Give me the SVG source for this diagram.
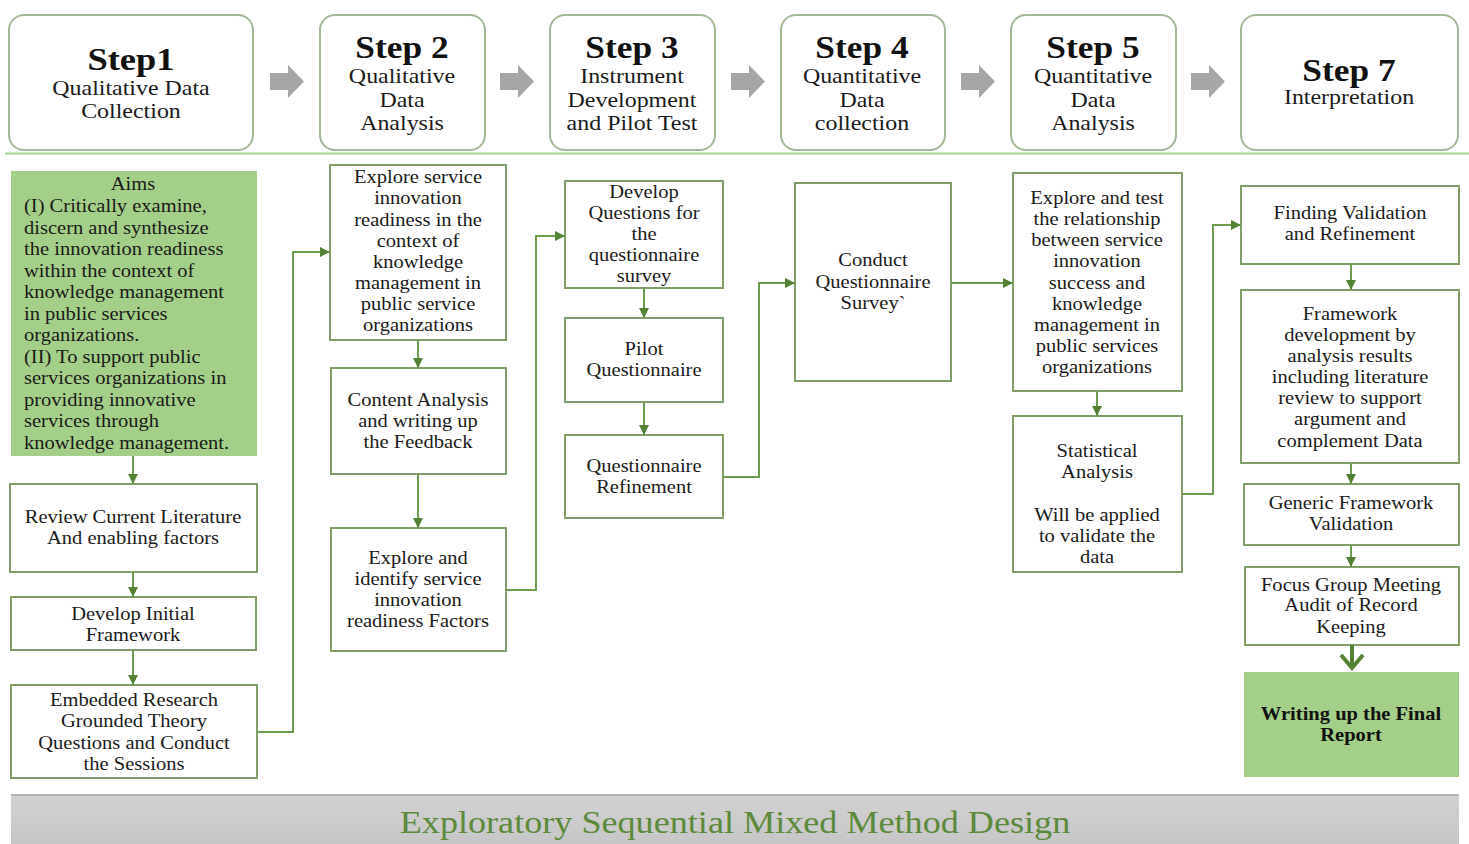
<svg xmlns="http://www.w3.org/2000/svg" width="1469" height="844" viewBox="0 0 1469 844">
<style>
.t{font-family:"Liberation Serif","Times New Roman",serif;font-size:18px;fill:#1a1a1a;text-anchor:middle}
.ta{font-family:"Liberation Serif","Times New Roman",serif;font-size:18px;fill:#1a1a1a;text-anchor:start}
.sh{font-family:"Liberation Serif","Times New Roman",serif;font-size:31px;font-weight:bold;fill:#111;text-anchor:middle}
.ss{font-family:"Liberation Serif","Times New Roman",serif;font-size:21px;fill:#1a1a1a;text-anchor:middle}
.tb{font-family:"Liberation Serif","Times New Roman",serif;font-size:18px;font-weight:bold;fill:#111;text-anchor:middle}
.title{font-family:"Liberation Serif","Times New Roman",serif;font-size:32px;fill:#5b8a3a;text-anchor:middle}
.step{fill:#fff;stroke:#a3b896;stroke-width:2}
.box{fill:#fff;stroke:#7f9e68;stroke-width:2}
.gbox{fill:#a4cf88;stroke:none}
.con{fill:none;stroke:#6d9b4f;stroke-width:2}
.garrow{fill:#a6a6a6}
</style>
<defs>
<marker id="ah" viewBox="0 0 10 10" refX="10" refY="5" markerWidth="10" markerHeight="10" markerUnits="userSpaceOnUse" orient="auto">
<path d="M0,0 L10,5 L0,10 z" fill="#548235"/>
</marker>
<linearGradient id="band" x1="0" y1="0" x2="0" y2="1">
<stop offset="0" stop-color="#d2d2d2"/>
<stop offset="1" stop-color="#c4c4c4"/>
</linearGradient>
<path id="gar" d="M0,8 H18 V0 L34,16.5 L18,33 V25 H0 z"/>
</defs>
<rect width="1469" height="844" fill="#fff"/>

<!-- Step headers -->
<g id="step1"><rect class="step" x="9" y="15" width="244" height="135" rx="15"/>
<text class="sh" transform="translate(131 0) scale(1.14 1)" style="font-size:32px"><tspan x="0" y="70">Step1</tspan></text>
<text class="ss" transform="translate(131 0) scale(1.14 1)"><tspan x="0" y="95">Qualitative Data</tspan><tspan x="0" y="118">Collection</tspan></text></g>
<g id="step2"><rect class="step" x="320" y="15" width="165" height="135" rx="15"/>
<text class="sh" transform="translate(402 0) scale(1.14 1)"><tspan x="0" y="58">Step 2</tspan></text>
<text class="ss" transform="translate(402 0) scale(1.14 1)"><tspan x="0" y="83">Qualitative</tspan><tspan x="0" y="107">Data</tspan><tspan x="0" y="130">Analysis</tspan></text></g>
<g id="step3"><rect class="step" x="550" y="15" width="165" height="135" rx="15"/>
<text class="sh" transform="translate(632 0) scale(1.14 1)"><tspan x="0" y="58">Step 3</tspan></text>
<text class="ss" transform="translate(632 0) scale(1.14 1)"><tspan x="0" y="83">Instrument</tspan><tspan x="0" y="107">Development</tspan><tspan x="0" y="130">and Pilot Test</tspan></text></g>
<g id="step4"><rect class="step" x="781" y="15" width="164" height="135" rx="15"/>
<text class="sh" transform="translate(862 0) scale(1.14 1)"><tspan x="0" y="58">Step 4</tspan></text>
<text class="ss" transform="translate(862 0) scale(1.14 1)"><tspan x="0" y="83">Quantitative</tspan><tspan x="0" y="107">Data</tspan><tspan x="0" y="130">collection</tspan></text></g>
<g id="step5"><rect class="step" x="1011" y="15" width="165" height="135" rx="15"/>
<text class="sh" transform="translate(1093 0) scale(1.14 1)"><tspan x="0" y="58">Step 5</tspan></text>
<text class="ss" transform="translate(1093 0) scale(1.14 1)"><tspan x="0" y="83">Quantitative</tspan><tspan x="0" y="107">Data</tspan><tspan x="0" y="130">Analysis</tspan></text></g>
<g id="step7"><rect class="step" x="1241" y="15" width="217" height="135" rx="15"/>
<text class="sh" transform="translate(1349 0) scale(1.14 1)"><tspan x="0" y="81">Step 7</tspan></text>
<text class="ss" transform="translate(1349 0) scale(1.14 1)"><tspan x="0" y="104">Interpretation</tspan></text></g>

<g id="step-arrows">
<use href="#gar" class="garrow" x="270" y="65"/>
<use href="#gar" class="garrow" x="500" y="65"/>
<use href="#gar" class="garrow" x="731" y="65"/>
<use href="#gar" class="garrow" x="961" y="65"/>
<use href="#gar" class="garrow" x="1191" y="65"/>
</g>
<line x1="5" y1="153.5" x2="1469" y2="153.5" stroke="#a9d18e" stroke-width="2"/>

<!-- Column 1 -->
<g id="aims"><rect class="gbox" x="11" y="171" width="246" height="285"/>
<text class="t" transform="translate(133 0) scale(1.14 1)"><tspan x="0" y="190">Aims</tspan></text>
<text class="ta" transform="translate(24 0) scale(1.14 1)"><tspan x="0" y="212">(I) Critically examine,</tspan><tspan x="0" y="234">discern and synthesize</tspan><tspan x="0" y="255">the innovation readiness</tspan><tspan x="0" y="277">within the context of</tspan><tspan x="0" y="298">knowledge management</tspan><tspan x="0" y="320">in public services</tspan><tspan x="0" y="341">organizations.</tspan><tspan x="0" y="363">(II) To support public</tspan><tspan x="0" y="384">services organizations in</tspan><tspan x="0" y="406">providing innovative</tspan><tspan x="0" y="427">services through</tspan><tspan x="0" y="449">knowledge management.</tspan></text></g>
<g id="review"><rect class="box" x="10" y="484" width="247" height="88"/>
<text class="t" transform="translate(133 0) scale(1.14 1)"><tspan x="0" y="523">Review Current Literature</tspan><tspan x="0" y="544">And enabling factors</tspan></text></g>
<g id="initial"><rect class="box" x="11" y="597" width="245" height="53"/>
<text class="t" transform="translate(133 0) scale(1.14 1)"><tspan x="0" y="620">Develop Initial</tspan><tspan x="0" y="641">Framework</tspan></text></g>
<g id="embedded"><rect class="box" x="11" y="685" width="246" height="93"/>
<text class="t" transform="translate(134 0) scale(1.14 1)"><tspan x="0" y="706">Embedded Research</tspan><tspan x="0" y="727">Grounded Theory</tspan><tspan x="0" y="749">Questions and Conduct</tspan><tspan x="0" y="770">the Sessions</tspan></text></g>

<!-- Column 2 -->
<g id="explore-service"><rect class="box" x="330" y="165" width="176" height="175"/>
<text class="t" transform="translate(418 0) scale(1.14 1)"><tspan x="0" y="183">Explore service</tspan><tspan x="0" y="204">innovation</tspan><tspan x="0" y="226">readiness in the</tspan><tspan x="0" y="247">context of</tspan><tspan x="0" y="268">knowledge</tspan><tspan x="0" y="289">management in</tspan><tspan x="0" y="310">public service</tspan><tspan x="0" y="331">organizations</tspan></text></g>
<g id="content-analysis"><rect class="box" x="331" y="368" width="175" height="106"/>
<text class="t" transform="translate(418 0) scale(1.14 1)"><tspan x="0" y="406">Content Analysis</tspan><tspan x="0" y="427">and writing up</tspan><tspan x="0" y="448">the Feedback</tspan></text></g>
<g id="explore-identify"><rect class="box" x="331" y="528" width="175" height="123"/>
<text class="t" transform="translate(418 0) scale(1.14 1)"><tspan x="0" y="564">Explore and</tspan><tspan x="0" y="585">identify service</tspan><tspan x="0" y="606">innovation</tspan><tspan x="0" y="627">readiness Factors</tspan></text></g>

<!-- Column 3 -->
<g id="develop-questions"><rect class="box" x="565" y="181" width="158" height="107"/>
<text class="t" transform="translate(644 0) scale(1.14 1)"><tspan x="0" y="198">Develop</tspan><tspan x="0" y="219">Questions for</tspan><tspan x="0" y="240">the</tspan><tspan x="0" y="261">questionnaire</tspan><tspan x="0" y="282">survey</tspan></text></g>
<g id="pilot"><rect class="box" x="565" y="318" width="158" height="84"/>
<text class="t" transform="translate(644 0) scale(1.14 1)"><tspan x="0" y="355">Pilot</tspan><tspan x="0" y="376">Questionnaire</tspan></text></g>
<g id="refinement"><rect class="box" x="565" y="435" width="158" height="83"/>
<text class="t" transform="translate(644 0) scale(1.14 1)"><tspan x="0" y="472">Questionnaire</tspan><tspan x="0" y="493">Refinement</tspan></text></g>

<!-- Column 4 -->
<g id="conduct"><rect class="box" x="795" y="183" width="156" height="198"/>
<text class="t" transform="translate(873 0) scale(1.14 1)"><tspan x="0" y="266">Conduct</tspan><tspan x="0" y="288">Questionnaire</tspan><tspan x="0" y="309">Survey`</tspan></text></g>

<!-- Column 5 -->
<g id="explore-test"><rect class="box" x="1013" y="173" width="169" height="218"/>
<text class="t" transform="translate(1097 0) scale(1.14 1)"><tspan x="0" y="204">Explore and test</tspan><tspan x="0" y="225">the relationship</tspan><tspan x="0" y="246">between service</tspan><tspan x="0" y="267">innovation</tspan><tspan x="0" y="289">success and</tspan><tspan x="0" y="310">knowledge</tspan><tspan x="0" y="331">management in</tspan><tspan x="0" y="352">public services</tspan><tspan x="0" y="373">organizations</tspan></text></g>
<g id="statistical"><rect class="box" x="1013" y="416" width="169" height="156"/>
<text class="t" transform="translate(1097 0) scale(1.14 1)"><tspan x="0" y="457">Statistical</tspan><tspan x="0" y="478">Analysis</tspan><tspan x="0" y="521">Will be applied</tspan><tspan x="0" y="542">to validate the</tspan><tspan x="0" y="563">data</tspan></text></g>

<!-- Column 7 -->
<g id="finding"><rect class="box" x="1241" y="186" width="218" height="78"/>
<text class="t" transform="translate(1350 0) scale(1.14 1)"><tspan x="0" y="219">Finding Validation</tspan><tspan x="0" y="240">and Refinement</tspan></text></g>
<g id="framework-dev"><rect class="box" x="1241" y="290" width="218" height="173"/>
<text class="t" transform="translate(1350 0) scale(1.14 1)"><tspan x="0" y="320">Framework</tspan><tspan x="0" y="341">development by</tspan><tspan x="0" y="362">analysis results</tspan><tspan x="0" y="383">including literature</tspan><tspan x="0" y="404">review to support</tspan><tspan x="0" y="425">argument and</tspan><tspan x="0" y="447">complement Data</tspan></text></g>
<g id="generic"><rect class="box" x="1244" y="484" width="215" height="61"/>
<text class="t" transform="translate(1351 0) scale(1.14 1)"><tspan x="0" y="509">Generic Framework</tspan><tspan x="0" y="530">Validation</tspan></text></g>
<g id="focus"><rect class="box" x="1245" y="567" width="214" height="78"/>
<text class="t" transform="translate(1351 0) scale(1.14 1)"><tspan x="0" y="591">Focus Group Meeting</tspan><tspan x="0" y="611">Audit of Record</tspan><tspan x="0" y="633">Keeping</tspan></text></g>
<g id="final-report"><rect class="gbox" x="1244" y="672" width="215" height="105"/>
<text class="tb" transform="translate(1351 0) scale(1.14 1)"><tspan x="0" y="720">Writing up the Final</tspan><tspan x="0" y="741">Report</tspan></text></g>

<!-- Connectors -->
<g id="connectors">
<path class="con" d="M133,456 V484" marker-end="url(#ah)"/>
<path class="con" d="M133,572 V597" marker-end="url(#ah)"/>
<path class="con" d="M133,650 V685" marker-end="url(#ah)"/>
<path class="con" d="M257,732 H293 V252 H330" marker-end="url(#ah)"/>
<path class="con" d="M418,340 V368" marker-end="url(#ah)"/>
<path class="con" d="M418,474 V528" marker-end="url(#ah)"/>
<path class="con" d="M506,590 H536 V236 H565" marker-end="url(#ah)"/>
<path class="con" d="M644,288 V318" marker-end="url(#ah)"/>
<path class="con" d="M644,402 V435" marker-end="url(#ah)"/>
<path class="con" d="M723,477 H759 V283 H795" marker-end="url(#ah)"/>
<path class="con" d="M951,283 H1013" marker-end="url(#ah)"/>
<path class="con" d="M1097,391 V416" marker-end="url(#ah)"/>
<path class="con" d="M1182,494 H1213 V225 H1241" marker-end="url(#ah)"/>
<path class="con" d="M1351,264 V290" marker-end="url(#ah)"/>
<path class="con" d="M1351,463 V484" marker-end="url(#ah)"/>
<path class="con" d="M1351,545 V567" marker-end="url(#ah)"/>
<path d="M1352,645 V667" fill="none" stroke="#548235" stroke-width="4"/>
<path d="M1341,655 L1352,668 L1363,655" fill="none" stroke="#548235" stroke-width="4"/>
</g>

<!-- Banner -->
<g id="banner">
<rect x="11" y="794" width="1448" height="60" fill="url(#band)"/>
<line x1="11" y1="795" x2="1459" y2="795" stroke="#b4b4b4" stroke-width="2"/>
<text class="title" transform="translate(735 0) scale(1.13 1)"><tspan x="0" y="833">Exploratory Sequential Mixed Method Design</tspan></text>
</g>
</svg>
